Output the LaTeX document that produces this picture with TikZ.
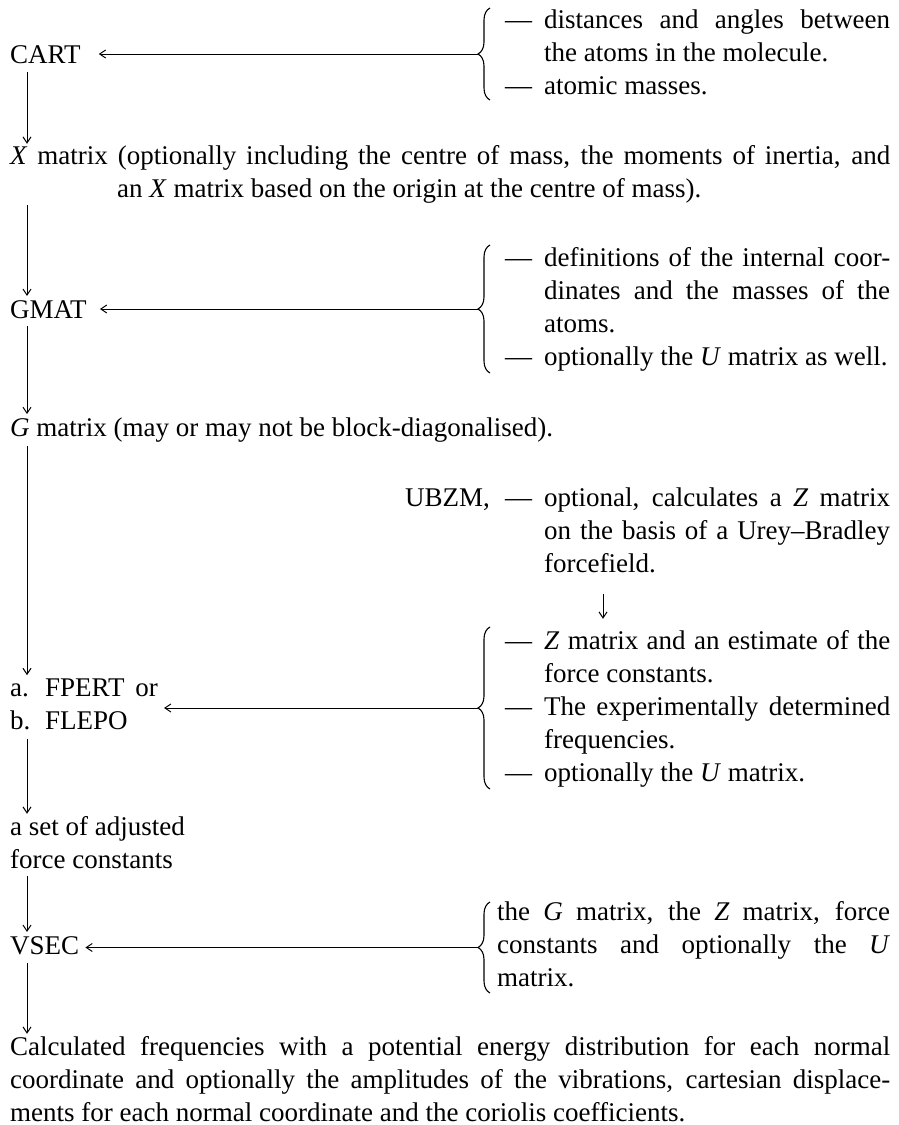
\documentclass[tikz,border=0pt]{standalone}
\usepackage{fontspec}
\setmainfont{Liberation Serif}
\usetikzlibrary{arrows.meta,decorations.pathreplacing,calc}

\newcommand{\dsh}{\makebox[39pt][l]{---}}
\newcommand{\ind}{\hspace*{39pt}}
\newcommand{\jr}[1]{\makebox[346pt][s]{#1}}

\begin{document}
\begin{tikzpicture}[x=1pt,y=-1pt,
  txt/.style={inner sep=0pt, anchor=base west, align=left, font=\fontsize{27}{33}\selectfont},
  arr/.style={line width=1pt, -{Straight Barb[length=6pt,width=8pt]}},
  brc/.style={line width=1.1pt, decorate, decoration={brace, amplitude=12pt}}]
\useasboundingbox (0,0) rectangle (899,1125);

\coordinate (col) at (27,0);
\coordinate (dn) at (603,0);

% left column (multi-line nodes are placed by the baseline of their last line)
\node[txt] (cart) at (10,63) {CART};
\node[txt] (xm) at (10,197) {\makebox[880pt][s]{\textit{X} matrix (optionally including the centre of mass, the moments of inertia, and}\\ \hspace*{107pt}an \textit{X} matrix based on the origin at the centre of mass).};
\node[txt] (gmat) at (10,318) {GMAT};
\node[txt] (gm) at (10,436) {\textit{G} matrix (may or may not be block-diagonalised).};
\node[txt] (fp) at (10,729) {\makebox[35pt][l]{a.}FPERT\hspace{4pt} or\\ \makebox[35pt][l]{b.}FLEPO};
\node[txt] (as) at (10,868) {a set of adjusted\\ force constants};
\node[txt] (vsec) at (10,954) {VSEC};
\node[txt] (calc) at (10,1121) {\makebox[880pt][s]{Calculated frequencies with a potential energy distribution for each normal}\\ \makebox[880pt][s]{coordinate and optionally the amplitudes of the vibrations, cartesian displace-}\\ ments for each normal coordinate and the coriolis coefficients.};

% right column
\node[txt] (b1) at (505,94) {\dsh\jr{distances and angles between}\\ \ind the atoms in the molecule.\\ \dsh atomic masses.};
\node[txt] (b2) at (505,365) {\dsh\jr{definitions of the internal coor-}\\ \ind\jr{dinates and the masses of the}\\ \ind atoms.\\ \dsh optionally the \textit{U} matrix as well.};
\node[txt, anchor=base east] (ubzm) at (490,506) {UBZM,};
\node[txt] (ubt) at (505,572) {\dsh\jr{optional, calculates a \textit{Z} matrix}\\ \ind\jr{on the basis of a Urey--Bradley}\\ \ind forcefield.};
\node[txt] (b3) at (505,781) {\dsh\jr{\textit{Z} matrix and an estimate of the}\\ \ind force constants.\\ \dsh\jr{The experimentally determined}\\ \ind frequencies.\\ \dsh optionally the \textit{U} matrix.};
\node[txt] (b4) at (497,986) {\makebox[393pt][s]{the \textit{G} matrix, the \textit{Z} matrix, force}\\ \makebox[393pt][s]{constants and optionally the \textit{U}}\\ matrix.};

% braces
\draw[brc] (490,100) -- (490,8);
\draw[brc] (490,373) -- (490,245);
\draw[brc] (490,789) -- (490,627);
\draw[brc] (490,993) -- (490,902);
\coordinate (t1) at (478,54);
\coordinate (t2) at (478,309);
\coordinate (t3) at (478,708);
\coordinate (t4) at (478,947.5);

% horizontal arrows
\draw[arr, shorten >=18pt] (t1) -- (t1 -| cart.east);
\draw[arr, shorten >=13pt] (t2) -- (t2 -| gmat.east);
\draw[arr, shorten >=6pt] (t3) -- (t3 -| fp.east);
\draw[arr, shorten >=6pt] (t4) -- (t4 -| vsec.east);

% vertical arrows
\draw[arr, shorten <=9pt, shorten >=1pt] (cart.south -| col) -- (xm.north -| col);
\draw[arr, shorten <=2pt, shorten >=4pt] (xm.south -| col) -- (gmat.north -| col);
\draw[arr, shorten <=8pt, shorten >=3pt] (gmat.south -| col) -- (gm.north -| col);
\draw[arr, shorten <=4pt, shorten >=3pt] (gm.south -| col) -- (fp.north -| col);
\draw[arr, shorten <=9pt, shorten >=2pt] (fp.south -| col) -- (as.north -| col);
\draw[arr, shorten <=8pt, shorten >=4pt] (as.south -| col) -- (vsec.north -| col);
\draw[arr, shorten <=8pt, shorten >=2pt] (vsec.south -| col) -- (calc.north -| col);
\draw[arr, shorten <=21pt, shorten >=11pt] (ubt.south -| dn) -- (b3.north -| dn);
\end{tikzpicture}
\end{document}
